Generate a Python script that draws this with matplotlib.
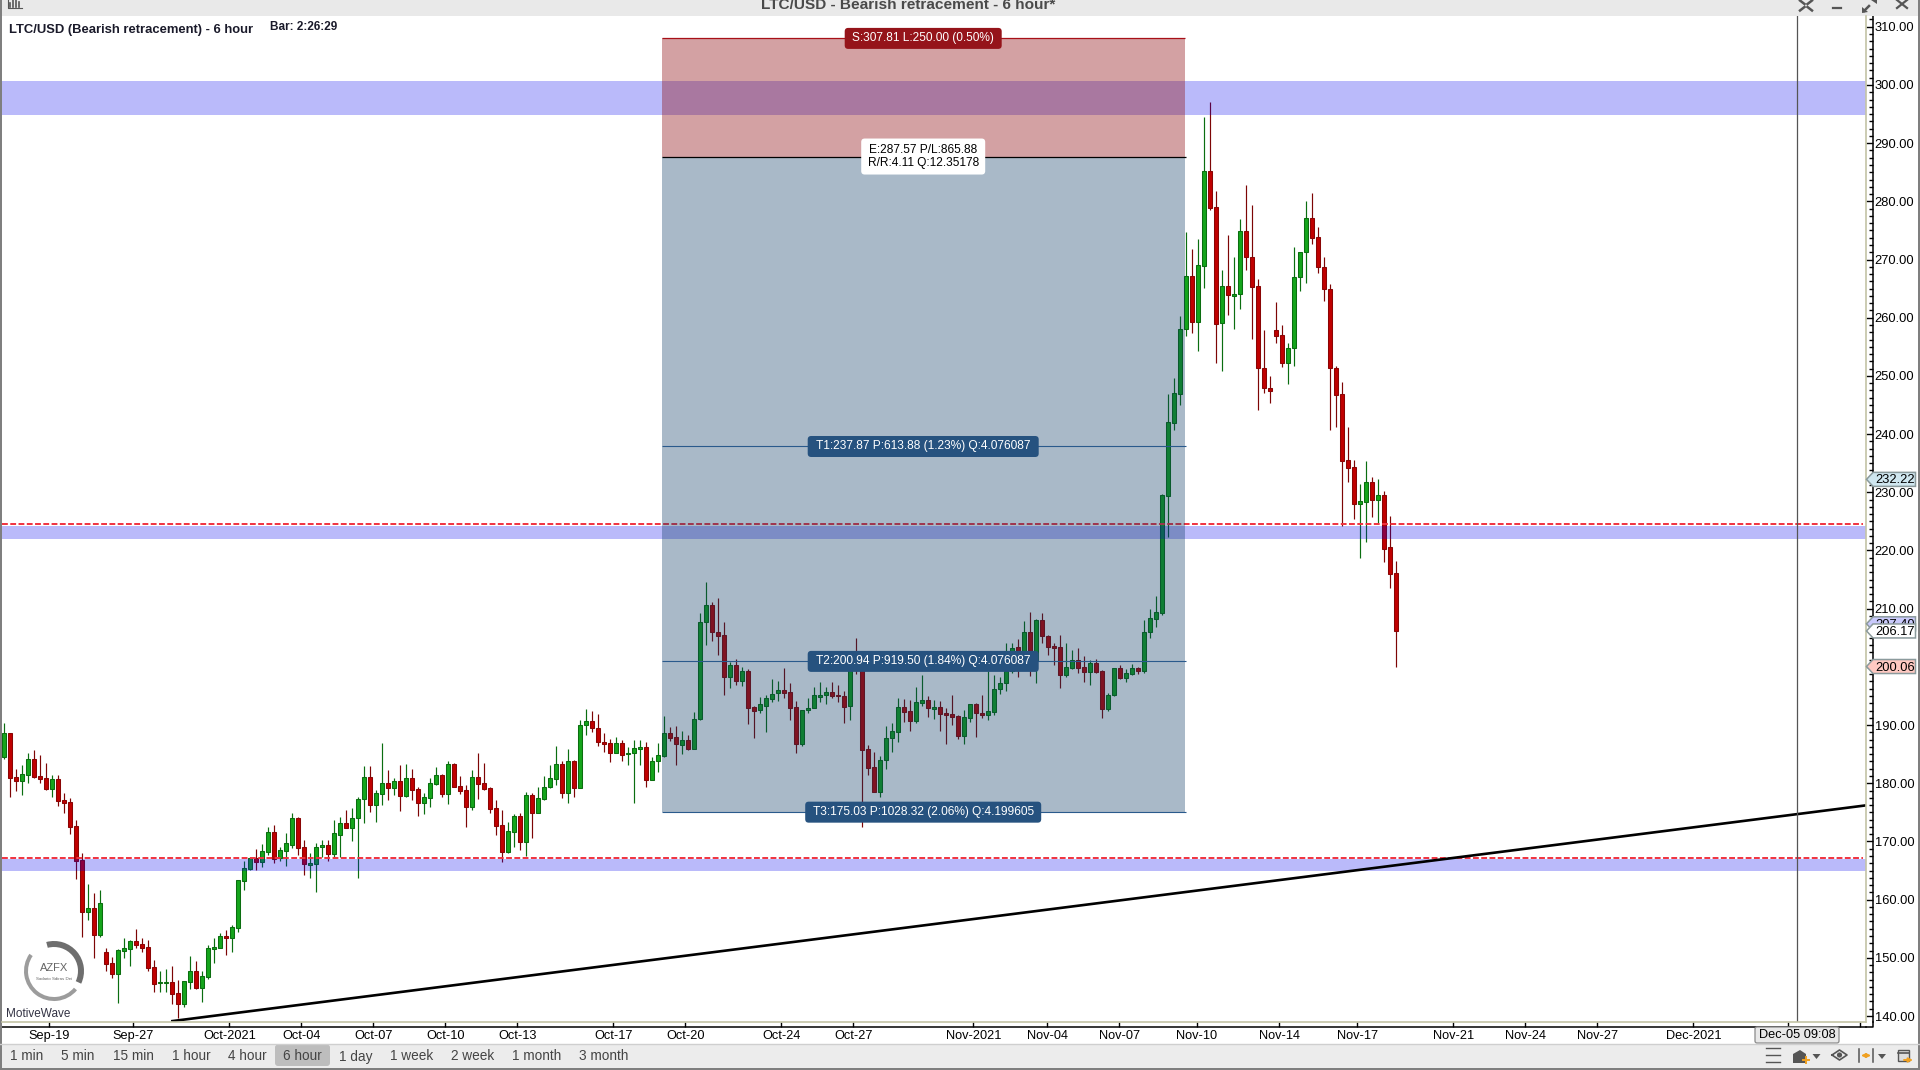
import numpy as np
import matplotlib
matplotlib.use('Agg')
import matplotlib.pyplot as plt
from matplotlib.patches import Rectangle, FancyBboxPatch, Polygon, Wedge
from matplotlib.ticker import MultipleLocator, FixedFormatter, FixedLocator, FormatStrFormatter

plt.rcParams['font.family'] = ['Liberation Sans', 'DejaVu Sans']

# LTC/USD 6 hour bars
directions = ("GRRGGRRRGR" "RRRRGRGRRG" "GGRRRRGGRR" "GGRGGGGRGG" "GGRGGRGGGR"
              "RGGGRGGRGG" "GRGGRGRGRR" "GGGRGRRRGR" "RRRRGGRGRG" "GGGRGRGGRR"
              "RRGRGGGRGG" "GRRGRGGGRR" "RGRGRRGGGG" "RRRGGGGGRR" "RGRRRRGGGG"
              "RRGGRGRRRR" "GGRRGGGGGR" "GRGRRRRGGR" "RGRRGGRGGR" "GGGGGGGGRG"
              "GRRGRGGRRR" "RRRRGGGGRR" "RRRRRRGGRG" "RRR")
highs = [190.41,188.70,182.40,183.08,185.15,185.72,184.86,183.43,181.42,181.42,
         178.27,177.41,173.69,167.96,162.69,161.09,161.66,151.64,150.20,151.47,
         153.35,153.07,154.90,153.47,153.07,149.63,147.80,148.03,148.66,146.19,
         146.08,150.32,149.46,147.80,152.21,153.35,154.21,154.79,155.65,163.38,
         166.64,167.39,168.71,169.57,172.54,172.77,169.11,171.40,174.83,174.26,
         170.25,167.96,169.68,170.25,170.25,173.69,174.26,175.41,175.69,177.58,
         182.97,182.97,178.84,186.86,182.28,180.85,183.14,183.26,182.40,179.30,
         178.27,180.85,182.85,181.59,183.83,183.43,181.25,179.70,182.28,185.26,
         183.43,179.30,177.13,175.41,173.40,174.72,174.83,178.56,178.27,179.42,
         181.25,183.14,186.41,183.88,185.83,184.00,190.87,192.71,192.42,191.90,
         188.58,187.55,187.89,187.44,186.29,187.44,187.44,187.15,184.57,186.86,
         191.56,189.73,189.90,188.99,188.30,192.31,209.21,214.53,211.10,211.78,
         207.66,200.90,201.36,199.93,199.70,193.34,194.77,195.17,197.86,197.58,
         199.81,197.18,194.14,192.59,194.60,196.49,197.35,196.60,197.41,196.89,
         195.92,201.76,204.91,201.76,186.58,185.38,184.69,189.85,190.30,194.60,
         194.43,194.31,196.55,198.61,195.00,194.31,194.14,192.88,195.17,191.73,
         192.59,193.63,193.74,195.17,199.30,198.61,198.32,204.05,204.05,204.74,
         207.89,209.43,208.17,209.21,205.48,204.05,205.48,204.05,202.90,203.19,
         201.87,201.19,201.36,199.47,195.57,199.81,200.27,199.64,200.50,200.04,
         208.06,209.89,212.18,229.65,246.89,249.60,260.30,274.67,271.81,273.53,
         294.43,297.01,281.72,268.20,274.21,270.38,276.90,282.75,279.31,266.60,
         257.89,250.00,262.70,258.69,255.60,272.09,271.23,280.06,281.43,275.59,
         270.38,265.74,251.70,248.90,241.22,235.55,231.43,235.38,232.58,232.29,
         230.23,225.93,218.20]
body_tops = [188.70,188.70,181.02,181.59,184.11,184.17,181.25,180.85,180.73,180.73,
             177.13,176.78,172.66,166.82,158.57,158.57,159.43,151.01,149.12,151.35,
             151.69,152.95,152.90,152.33,151.87,148.37,145.79,145.79,145.79,143.90,
             146.02,147.74,147.74,146.88,151.69,151.81,153.70,153.70,155.30,163.32,
             165.38,167.10,167.10,168.31,171.57,171.57,168.48,169.68,173.97,174.03,
             169.05,166.24,168.99,169.39,169.34,171.40,173.12,173.12,173.97,177.30,
             181.02,181.02,178.27,179.99,179.99,180.33,180.33,180.85,180.85,178.96,
             177.64,179.99,181.48,181.36,183.26,183.26,179.47,178.79,181.02,181.02,
             179.99,179.13,175.69,172.77,171.74,174.38,174.38,177.93,177.93,177.41,
             179.30,180.85,183.31,183.31,183.83,183.83,189.96,190.64,190.70,189.44,
             187.04,186.92,186.86,186.86,185.15,186.00,186.23,186.23,183.77,184.80,
             188.64,188.64,187.95,187.38,187.38,190.99,207.66,210.58,210.58,205.94,
             205.42,200.27,200.27,199.24,199.24,193.11,193.57,194.60,195.29,195.97,
             195.97,195.63,193.05,192.54,192.99,195.11,195.11,195.63,195.63,195.17,
             195.00,201.19,201.19,200.61,185.84,182.74,183.94,187.73,188.93,193.05,
             193.05,192.37,193.91,194.25,194.25,193.05,193.05,192.02,191.91,191.56,
             191.33,193.57,193.57,192.02,192.37,196.14,197.18,199.35,203.19,203.36,
             205.94,205.94,208.00,208.00,205.37,203.59,203.36,199.98,201.19,201.19,
             199.98,200.67,200.67,199.30,195.17,199.75,199.81,198.89,199.81,199.87,
             205.94,208.35,209.38,229.54,242.02,247.12,258.06,267.11,267.11,269.00,
             285.15,285.15,278.97,265.39,265.39,264.08,274.84,274.84,270.38,265.39,
             251.30,247.93,257.83,256.97,254.74,266.94,271.23,277.08,277.08,273.81,
             268.66,264.88,251.30,246.90,235.55,234.35,228.51,231.72,231.72,229.48,
             229.48,220.55,216.08]
body_bottoms = [184.46,180.96,180.45,180.45,181.48,181.08,180.79,179.02,179.07,177.01,
                176.67,172.54,166.70,157.94,157.94,153.93,153.93,148.94,147.28,147.28,
                151.24,151.58,152.27,151.75,148.31,145.56,145.62,145.62,143.85,142.13,
                142.13,145.91,144.82,144.88,146.65,151.58,151.75,153.47,153.47,155.19,
                163.26,165.33,166.53,166.53,168.25,167.04,167.22,168.42,169.45,168.88,
                166.19,166.01,166.19,168.99,167.90,167.90,171.17,172.31,172.31,173.97,
                177.24,176.32,176.32,178.16,179.13,179.13,177.81,177.87,178.90,176.67,
                176.67,177.47,179.93,178.16,178.16,179.42,178.73,175.98,175.98,179.93,
                179.07,175.64,172.72,168.25,168.25,171.68,169.97,169.97,174.95,174.95,
                177.35,179.30,180.79,178.39,178.39,179.25,179.25,189.96,189.44,187.15,
                186.75,185.26,185.26,184.92,184.97,185.15,185.83,180.62,180.62,183.77,
                184.75,187.84,186.69,186.52,185.89,185.95,190.99,207.66,206.06,205.37,
                198.32,198.32,197.52,197.52,192.99,192.48,192.54,193.34,194.54,195.57,
                195.57,192.99,186.81,186.81,192.54,192.99,194.89,195.11,195.00,194.94,
                193.17,193.34,200.61,185.78,182.69,178.56,178.56,183.94,187.73,188.87,
                192.31,190.76,190.76,193.85,192.99,192.82,191.96,191.79,191.45,188.18,
                188.18,191.28,192.02,191.79,191.79,192.31,196.14,197.18,199.35,199.75,
                201.19,201.19,201.19,205.37,203.48,203.31,198.67,198.67,199.87,199.87,
                199.18,199.18,199.18,192.82,192.82,195.11,198.09,198.15,198.84,199.35,
                199.35,205.94,208.29,209.32,229.42,241.85,246.95,258.00,259.21,259.21,
                268.94,278.91,258.98,259.03,263.96,263.79,264.02,270.38,265.33,251.30,
                247.86,247.40,256.92,252.28,252.28,254.74,266.94,271.23,273.76,268.66,
                264.88,251.30,246.78,235.44,234.24,228.05,228.05,228.39,228.74,228.74,
                220.32,216.02,206.17]
lows = [184.11,177.70,178.73,177.99,180.10,180.85,179.99,178.85,177.70,176.09,
        174.83,171.28,163.55,153.64,156.50,150.03,153.64,147.80,146.59,142.30,
        149.92,148.60,151.64,150.95,147.80,144.19,144.19,144.07,142.01,139.72,
        141.50,144.59,144.71,142.47,146.31,149.17,151.64,150.49,150.95,154.50,
        161.66,165.10,165.10,165.67,167.67,166.36,166.64,165.84,168.82,167.67,
        164.29,163.78,161.37,167.39,166.70,167.10,167.39,172.26,170.14,163.78,
        173.23,175.12,173.40,176.27,177.13,177.99,175.29,177.70,177.13,174.38,
        174.66,175.98,179.70,177.70,176.38,179.30,178.10,172.54,175.41,177.30,
        178.84,174.83,171.11,166.53,168.08,168.99,168.53,167.56,170.65,174.83,
        177.13,179.13,179.70,177.53,176.67,177.70,179.13,188.30,188.87,186.41,
        185.43,183.66,185.15,183.88,183.14,176.67,183.14,179.30,180.56,182.00,
        184.57,187.32,183.20,185.03,185.72,185.83,190.88,203.76,204.45,202.05,
        195.17,196.43,196.89,196.72,190.19,187.84,192.02,188.81,194.03,194.14,
        194.71,190.88,185.26,186.46,192.02,192.88,194.03,193.63,194.71,194.03,
        190.42,190.88,198.84,172.55,181.43,178.56,177.70,182.46,185.43,187.15,
        190.59,188.99,190.30,193.34,191.33,191.05,188.99,186.75,190.02,187.61,
        186.75,190.59,188.01,191.28,190.88,191.73,195.34,195.92,198.89,198.32,
        200.61,198.44,197.29,204.05,202.05,200.33,196.43,198.32,199.64,199.01,
        197.46,196.89,199.01,191.28,192.42,195.00,197.92,197.35,198.61,198.78,
        199.01,205.02,206.91,208.92,222.38,240.71,245.00,256.91,257.43,254.28,
        265.16,278.51,252.28,250.90,260.47,258.12,261.50,268.20,256.40,244.15,
        247.10,245.40,255.71,251.59,248.67,251.76,264.65,266.02,272.72,267.74,
        262.93,240.71,241.28,224.27,231.83,225.42,218.77,221.52,225.82,224.67,
        218.08,213.62,200.06]

support_zones = [(294.84, 300.68), (222.03, 224.20), (164.92, 167.00)]
dashed_levels = [224.55, 167.20]
trend_bars = [27.8, 310.28]
trend_prices = [139.10, 176.20]

date_ticks = [7.5, 21.5, 37.5, 49.5, 61.5, 73.5, 85.5, 101.5, 113.5, 129.5, 141.5, 161.5,
              173.8, 185.8, 198.7, 212.5, 225.5, 241.5, 253.5, 265.5, 281.5, 297.33, 309.33]
date_labels = ['Sep-19', 'Sep-27', 'Oct-2021', 'Oct-04', 'Oct-07', 'Oct-10', 'Oct-13', 'Oct-17',
               'Oct-20', 'Oct-24', 'Oct-27', 'Nov-2021', 'Nov-04', 'Nov-07', 'Nov-10', 'Nov-14',
               'Nov-17', 'Nov-21', 'Nov-24', 'Nov-27', 'Dec-2021', '', '']

box_start, box_end = 109.6, 196.7
stop_price, entry_price = 308.0, 287.7
target_prices = [237.87, 200.94, 175.03]
target_labels = ['T1:237.87 P:613.88 (1.23%) Q:4.076087',
                 'T2:200.94 P:919.50 (1.84%) Q:4.076087',
                 'T3:175.03 P:1028.32 (2.06%) Q:4.199605']
cursor_bar = 298.83
flag_prices = [232.22, 207.40, 206.17, 200.06]
flag_colors = ['#cfe6ef', '#c9c9fb', '#ffffff', '#ffc9c2']
timeframes = ['1 min', '5 min', '15 min', '1 hour', '4 hour', '6 hour', '1 day', '1 week',
              '2 week', '1 month', '3 month']
timeframe_x = [27, 78, 133, 191, 247, 302.6, 356, 412, 473, 537, 604]

W, H = 1920, 1070
fig = plt.figure(figsize=(W / 100, H / 100), dpi=100, facecolor='white')
ax = fig.add_axes([2 / W, 1 - 1022 / H, 1864 / W, 1006 / H])
ax.set_xlim(-0.383, 310.28)
ax.set_ylim(138.97, 311.85)

# candles
bars = np.arange(len(highs))
up = np.array([d == 'G' for d in directions])
tops = np.array(body_tops)
bottoms = np.array(body_bottoms)
wick_colors = ['#0b6e10' if u else '#7d0505' for u in up]
ax.vlines(bars, lows, highs, colors=wick_colors, linewidth=0.85, zorder=2)
ax.bar(bars, tops - bottoms, bottom=bottoms, width=0.62,
       color=['#15a51c' if u else '#c00000' for u in up],
       edgecolor=['#0b6e10' if u else '#8a0505' for u in up], linewidth=0.75, zorder=2.1)

# zones go over the candles, the trade box over the zones
for low, high in support_zones:
    ax.axhspan(low, high, color=(0, 0, 0.93), alpha=0.27, lw=0, zorder=3)
for level in dashed_levels:
    ax.plot([-0.383, 309.8], [level, level], color='#f0323f', lw=1.4, dashes=(3, 1.25), zorder=3.2)
ax.add_patch(Rectangle((box_start, entry_price), box_end - box_start, stop_price - entry_price,
                       fc=(145 / 255, 22 / 255, 25 / 255), alpha=0.4, lw=0, zorder=4))
ax.add_patch(Rectangle((box_start, target_prices[2]), box_end - box_start, entry_price - target_prices[2],
                       fc=(9 / 255, 55 / 255, 100 / 255), alpha=0.35, lw=0, zorder=4))
ax.hlines(stop_price, box_start, box_end, color='#a81018', lw=0.9, zorder=5)
ax.hlines(entry_price, box_start, box_end + 0.3, color='black', lw=0.9, zorder=5)
ax.hlines(target_prices, box_start, box_end + 0.3, color='#2a5a8c', lw=0.8, zorder=5)
ax.plot(trend_bars, trend_prices, color='black', lw=1.9, zorder=5, solid_capstyle='butt')
ax.axvline(cursor_bar, color='#555555', lw=0.9, zorder=5)

# axes: black line sits a few px off the plot, ticks point back in
for side in ['left', 'top']:
    ax.spines[side].set_visible(False)
ax.spines['right'].set_position(('outward', 4.8))
ax.spines['bottom'].set_position(('outward', 3.8))
ax.spines['right'].set_linewidth(1.1)
ax.spines['bottom'].set_linewidth(1.1)
ax.yaxis.tick_right()
ax.yaxis.set_major_locator(MultipleLocator(10))
ax.yaxis.set_minor_locator(MultipleLocator(1.25))
ax.yaxis.set_major_formatter(FormatStrFormatter('%.2f'))
ax.tick_params(axis='y', which='major', direction='in', length=4.8, width=1, labelsize=9.3, pad=1.5)
ax.tick_params(axis='y', which='minor', direction='in', length=2.6, width=1)
ax.xaxis.set_major_locator(FixedLocator(date_ticks))
ax.xaxis.set_major_formatter(FixedFormatter(date_labels))
ax.tick_params(axis='x', which='major', direction='in', length=3.8, width=1, labelsize=9.2, pad=2.2)

# window furniture, in screen pixels
ui = fig.add_axes([0, 0, 1, 1], zorder=10)
ui.set_xlim(0, W)
ui.set_ylim(H, 0)
ui.axis('off')
ui.patch.set_alpha(0)


def price_y(price):
    return H - ax.transData.transform((0, price))[1]


def bar_x(bar):
    return ax.transData.transform((bar, 0))[0]


ui.add_patch(Rectangle((0, 0), W, 16, fc='#e9e9e9', lw=0))
ui.add_patch(Rectangle((0, 1044), W, 24, fc='#ececec', lw=0))
ui.plot([0, W], [1044, 1044], color='#cfcfcf', lw=1)
ui.add_patch(Rectangle((0, 0), 2, H, fc='#7f7f7f', lw=0))
ui.add_patch(Rectangle((1918, 0), 2, H, fc='#7f7f7f', lw=0))
ui.add_patch(Rectangle((0, 1068), W, 2, fc='#7f7f7f', lw=0))
ui.plot([1866, 1866], [16, 1022], color='#c4c4a6', lw=1.2)
ui.plot([2, 1866], [1022, 1022], color='#c4c4a6', lw=1.2)
ui.plot([1866, 1873.2, 1873.2], [1027.3, 1027.3, 1022], color='black', lw=1.1)

ui.text(908.5, 5, 'LTC/USD - Bearish retracement - 6 hour*', ha='center', va='center',
        fontsize=11.05, fontweight='bold', color='#4a4a4a')
ui.text(9, 29.5, 'LTC/USD (Bearish retracement) - 6 hour', fontsize=9.4, fontweight='bold',
        va='center', color='#1a1a2a')
ui.text(270.5, 27, 'Bar: 2:26:29', fontsize=8.5, fontweight='bold', va='center', color='#1a1a2a')
# chart icon top left
for x0, h in zip([10, 13, 16, 19], [4, 7, 9, 5]):
    ui.plot([x0, x0], [7, 7 - h], color='#555555', lw=1.2)
ui.plot([8, 8, 22], [0, 8, 8], color='#555555', lw=0.8)
# window buttons top right
for sx, sy in [(1, 1), (-1, 1), (1, -1), (-1, -1)]:
    ui.plot([1806 + sx * 1.5, 1806 + sx * 6], [5.5 + sy * 1.5, 5.5 + sy * 5], color='#555555', lw=1.8)
ui.plot([1833, 1841], [8, 8], color='#555555', lw=1.6)
ui.plot([1864, 1869], [11, 6], color='#555555', lw=1.8)
ui.add_patch(Polygon([(1862, 7), (1868, 12), (1862, 13)], fc='#555555', lw=0))
ui.add_patch(Polygon([(1871, 0), (1877, 0), (1877, 4)], fc='#555555', lw=0))
ui.plot([1897, 1907], [0, 8], color='#555555', lw=1.6)
ui.plot([1897, 1907], [8, 0], color='#555555', lw=1.6)


def price_tag(price, text, fc, tc, half_w, half_h=10.5):
    x0 = bar_x(153.15)
    y0 = price_y(price)
    ui.add_patch(FancyBboxPatch((x0 - half_w, y0 - half_h), 2 * half_w, 2 * half_h,
                                boxstyle='round,pad=0,rounding_size=3.5', fc=fc, ec='none'))
    ui.text(x0, y0, text, ha='center', va='center', color=tc, fontsize=8.6, linespacing=1.15)


price_tag(stop_price, 'S:307.81 L:250.00 (0.50%)', '#95141a', 'white', 78.5, 10.5)
price_tag(entry_price, 'E:287.57 P/L:865.88\nR/R:4.11 Q:12.35178', 'white', 'black', 62, 18)
for price, label in zip(target_prices, target_labels):
    price_tag(price, label, '#26527f', 'white', 118 if 'T3' in label else 115.5)

# flags on the price axis, later flags cover earlier ones
for n, (price, color) in enumerate(zip(flag_prices, flag_colors)):
    y0 = price_y(price)
    ui.add_patch(Polygon([(1866.5, y0), (1873, y0 - 7), (1915.5, y0 - 7), (1915.5, y0 + 7), (1873, y0 + 7)],
                         closed=True, fc=color, ec='#8b9a9c', lw=1.1, zorder=10 + n))
    ui.text(1875, y0 + 1, '%.2f' % price, fontsize=9.3, va='center', color='black', zorder=10 + n)

# crosshair date
ui.add_patch(FancyBboxPatch((1755, 1027), 84, 16, boxstyle='round,pad=0,rounding_size=2',
                            fc='#e8e8e8', ec='#8a8a8a', lw=0.9))
ui.text(1797, 1035, 'Dec-05 09:08', ha='center', va='center', fontsize=9.2)

# logo
ui.add_patch(Wedge((54, 971), 30, -105, 25, width=6, fc='#6e6e6e', lw=0))
ui.add_patch(Wedge((54, 971), 30, 40, 215, width=4, fc='#9c9c9c', lw=0))
ui.text(54, 968, 'AZFX', ha='center', va='center', fontsize=8, color='#666666')
ui.text(54, 979, 'Sadario Sdiras Dei', ha='center', va='center', fontsize=3.2, color='#666666')
ui.text(6, 1013.7, 'MotiveWave', va='center', fontsize=8.5, color='#333344')

# timeframe strip
ui.add_patch(FancyBboxPatch((275, 1044.5), 55, 21.5, boxstyle='round,pad=0,rounding_size=3',
                            fc='#bdbdbd', ec='none'))
for x0, label in zip(timeframe_x, timeframes):
    ui.text(x0, 1056.5, label, ha='center', va='center', fontsize=9.8, color='#444444')

# toolbar icons bottom right
for y0 in [1048, 1055, 1062]:
    ui.plot([1766, 1780], [y0, y0], color='#555555', lw=1)
ui.add_patch(Polygon([(1793, 1063), (1793, 1054), (1800, 1050), (1806, 1054), (1806, 1063)], fc='#555555', lw=0))
ui.plot([1803, 1809], [1060, 1060], color='#f0a020', lw=1.4)
ui.plot([1806, 1806], [1057, 1063], color='#f0a020', lw=1.4)
for x0 in [1816.5, 1882]:
    ui.add_patch(Polygon([(x0 - 4, 1054), (x0 + 4, 1054), (x0, 1059)], fc='#555555', lw=0))
ui.plot([1832, 1839.5, 1847, 1839.5, 1832], [1055, 1050, 1055, 1060, 1055], color='#555555', lw=1.2)
ui.add_patch(plt.Circle((1839.5, 1055), 2.6, fc='#555555', lw=0))
ui.plot([1859, 1859], [1049, 1062], color='#555555', lw=1.1)
ui.plot([1873, 1873], [1049, 1062], color='#555555', lw=1.1)
ui.annotate('', xy=(1861, 1055.5), xytext=(1871, 1055.5),
            arrowprops=dict(arrowstyle='<|-|>', color='#f0a020', lw=1.2, mutation_scale=6, shrinkA=0, shrinkB=0))
ui.add_patch(Rectangle((1898, 1050), 11, 11, fc='#dddddd', ec='#555555', lw=1))
ui.plot([1898, 1909], [1053, 1053], color='#555555', lw=1.2)
ui.annotate('', xy=(1913, 1060), xytext=(1904, 1060),
            arrowprops=dict(arrowstyle='-|>', color='#f0a020', lw=1.4, mutation_scale=6, shrinkA=0, shrinkB=0))

plt.savefig('out.png', dpi=100)
